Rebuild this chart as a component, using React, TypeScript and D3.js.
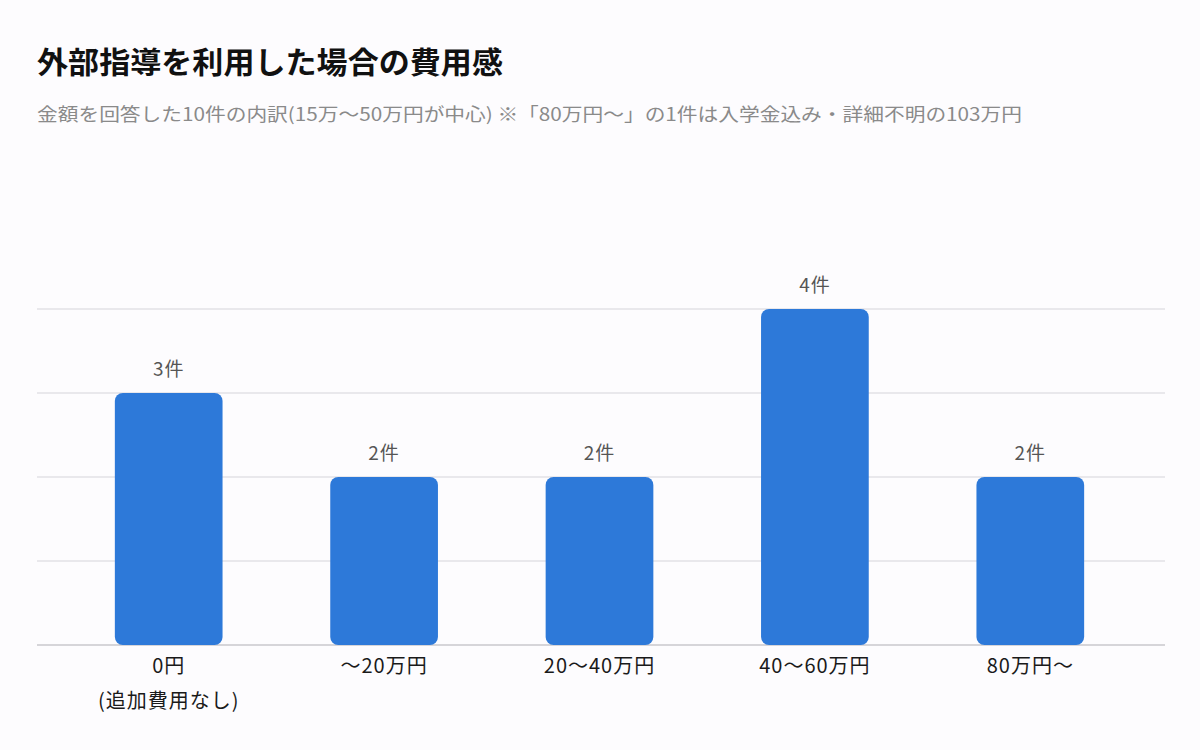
import React, { useEffect, useRef } from "react";
import * as d3 from "d3";

const categories = ["0円", "〜20万円", "20〜40万円", "40〜60万円", "80万円〜"];
const subLabels = ["(追加費用なし)", "", "", "", ""];
const counts = [3, 2, 2, 4, 2];
const yTicks = [0, 1, 2, 3, 4];

const title = "外部指導を利用した場合の費用感";
const subtitle =
  "金額を回答した10件の内訳(15万〜50万円が中心) ※「80万円〜」の1件は入学金込み・詳細不明の103万円";

const FONT = "'Noto Sans CJK JP', 'Noto Sans', sans-serif";

export default function App() {
  const ref = useRef<SVGSVGElement>(null);

  useEffect(() => {
    const width = 1200;
    const height = 750;
    const svg = d3.select(ref.current);
    svg.selectAll("*").remove();

    svg.append("rect")
      .attr("width", width)
      .attr("height", height)
      .attr("fill", "#fdfcfe");

    svg.append("text")
      .attr("x", 37)
      .attr("y", 73)
      .attr("font-family", FONT)
      .attr("font-size", 30)
      .attr("font-weight", "bold")
      .attr("fill", "#111")
      .attr("textLength", 466)
      .attr("lengthAdjust", "spacingAndGlyphs")
      .text(title);

    svg.append("text")
      .attr("x", 37)
      .attr("y", 121)
      .attr("font-family", FONT)
      .attr("font-size", 18)
      .attr("fill", "#8a8a8a")
      .attr("textLength", 985)
      .attr("lengthAdjust", "spacingAndGlyphs")
      .text(subtitle);

    const x = d3.scaleBand<string>()
      .domain(categories)
      .range([61, 1138])
      .paddingInner(0.5)
      .paddingOuter(0.25);

    const y = d3.scaleLinear()
      .domain([0, 4])
      .range([645, 309]);

    // grid lines
    svg.append("g")
      .selectAll("line")
      .data(yTicks)
      .enter()
      .append("line")
      .attr("x1", 37)
      .attr("x2", 1165)
      .attr("y1", d => y(d))
      .attr("y2", d => y(d))
      .attr("stroke", d => (d === 0 ? "#c8c8cc" : "#e2e2e6"))
      .attr("stroke-width", 1.5);

    const bw = x.bandwidth();

    svg.append("g")
      .selectAll("rect")
      .data(counts)
      .enter()
      .append("rect")
      .attr("x", (d, i) => x(categories[i])!)
      .attr("y", d => y(d))
      .attr("width", bw)
      .attr("height", d => y(0) - y(d))
      .attr("rx", 8)
      .attr("fill", "#2d79d9");

    svg.append("g")
      .selectAll("text")
      .data(counts)
      .enter()
      .append("text")
      .attr("x", (d, i) => x(categories[i])! + bw / 2)
      .attr("y", d => y(d) - 17)
      .attr("text-anchor", "middle")
      .attr("font-family", FONT)
      .attr("font-size", 19)
      .attr("letter-spacing", 1)
      .attr("fill", "#555")
      .text(d => `${d}件`);

    const labels = svg.append("g")
      .selectAll("g")
      .data(categories)
      .enter()
      .append("g");

    labels.append("text")
      .attr("x", d => x(d)! + bw / 2)
      .attr("y", 673)
      .attr("text-anchor", "middle")
      .attr("font-family", FONT)
      .attr("font-size", 20)
      .attr("letter-spacing", 1)
      .attr("fill", "#1a1a1a")
      .text(d => d);

    labels.append("text")
      .attr("x", d => x(d)! + bw / 2)
      .attr("y", 708)
      .attr("text-anchor", "middle")
      .attr("font-family", FONT)
      .attr("font-size", 20)
      .attr("letter-spacing", 1)
      .attr("fill", "#1a1a1a")
      .text((d, i) => subLabels[i]);
  }, []);

  return (
    <svg
      ref={ref}
      width={1200}
      height={750}
      style={{ position: "absolute", left: 0, top: 0, display: "block" }}
    />
  );
}
